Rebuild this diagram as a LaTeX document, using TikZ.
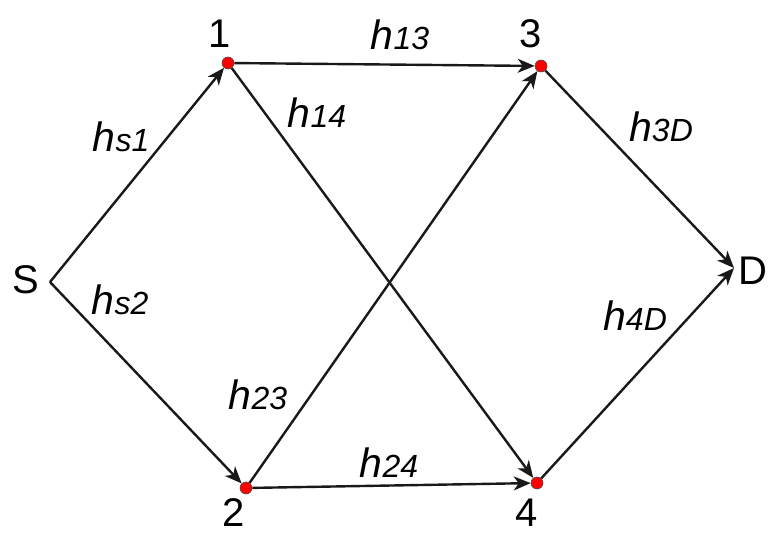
\documentclass[tikz,border=0pt]{standalone}
\usepackage{fontspec}
\setmainfont{Liberation Sans}
\usetikzlibrary{arrows.meta}
\tikzset{
  dot/.style={circle,fill=red,draw=black!70,line width=0.6pt,inner sep=0pt,minimum size=12pt},
  num/.style={font=\fontsize{40}{40}\selectfont,inner sep=0pt},
  edgelab/.style={inner sep=0pt},
  link/.style={line width=2.4pt,draw=black!90,-{Stealth[length=17pt,width=14pt,inset=5pt]}},
}
\newcommand{\hl}[1]{{\itshape\fontsize{41}{41}\selectfont h\fontsize{32}{32}\selectfont #1}}
\begin{document}
\begin{tikzpicture}[x=1pt,y=-1pt]
\useasboundingbox (0,0) rectangle (770,534);
% vertices
\coordinate (s) at (50,282);
\node[dot] (n1) at (228,63) {};
\node[dot] (n3) at (541,66) {};
\coordinate (d) at (734,268);
\node[dot] (n2) at (246,488) {};
\node[dot] (n4) at (537,483) {};
% vertex labels
\node[num] (ls) at (26,280) {S};
\node[num] (ld) at (753,271) {D};
\node[num] (l1) at (220,34) {1};
\node[num] (l3) at (531,34) {3};
\node[num] (l2) at (234,513) {2};
\node[num] (l4) at (527,513) {4};
% edges
\draw[link] (s) -- (n1);
\draw[link] (s) -- (n2);
\draw[link] (n1) -- (n3);
\draw[link] (n1) -- (n4);
\draw[link] (n2) -- (n3);
\draw[link] (n2) -- (n4);
\draw[link] (n3) -- (d);
\draw[link] (n4) -- (d);
% edge labels
\node[edgelab] (hs1) at (121,137) {\hl{s1}};
\node[edgelab] (hs2) at (120,300) {\hl{s2}};
\node[edgelab] (h13) at (400,35) {\hl{13}};
\node[edgelab] (h14) at (317,113) {\hl{14}};
\node[edgelab] (h3d) at (661,127) {\hl{3D}};
\node[edgelab] (h23) at (258,395) {\hl{23}};
\node[edgelab] (h24) at (389,463) {\hl{24}};
\node[edgelab] (h4d) at (635,316) {\hl{4D}};
\end{tikzpicture}
\end{document}
